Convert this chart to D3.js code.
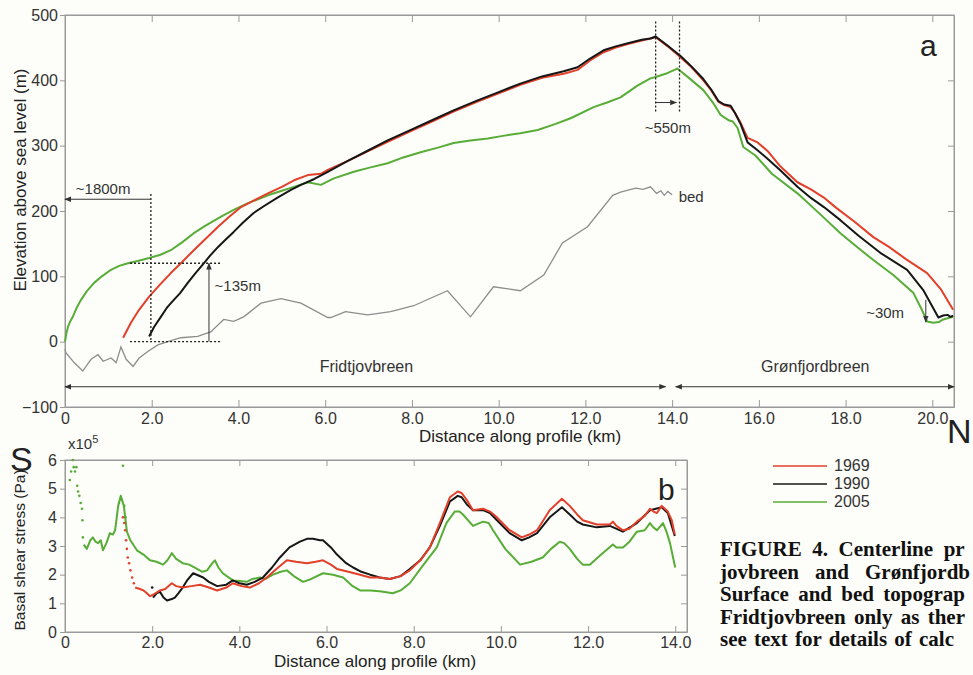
<!DOCTYPE html>
<html>
<head>
<meta charset="utf-8">
<script src="https://cdn.jsdelivr.net/npm/d3@7"></script>
<style>
  body { margin: 0; background: #fdfdf9; }
  svg { display: block; font-family: "Liberation Sans", Arial, sans-serif; }
  .axis path, .axis line { stroke: #9a9a9a; }
  .axis text { fill: #333; font-size: 16px; font-family: "Liberation Sans", Arial, sans-serif; }
  .caption { font-family: "Liberation Serif", "Times New Roman", serif; font-weight: bold; font-size: 21px; fill: #111; }
</style>
</head>
<body>
<div id="chart"></div>
<script>
// ---- panel a : surface + bed profiles (km, m a.s.l.) ----
const surf1969 = [[1.34,6],[1.52,29],[1.7,48],[1.94,69],[2.2,88],[2.44,105],[2.7,122],[2.97,140],[3.25,158],[3.53,176],[3.8,192],[4.06,206],[4.35,216],[4.68,227],[5.0,237],[5.28,247],[5.6,255],[5.9,257],[6.06,263],[6.5,276],[7.0,292],[7.44,306],[8.0,323],[8.5,338],[8.96,352],[9.5,367],[10.0,380],[10.5,393],[11.0,404],[11.5,410],[11.82,416],[12.1,430],[12.42,443],[12.7,450],[13.0,456],[13.3,461],[13.5,464],[13.62,466],[13.9,452],[14.2,435],[14.45,420],[14.72,400],[14.9,385],[15.07,367],[15.2,362],[15.35,359],[15.45,350],[15.58,335],[15.74,312],[15.97,305],[16.2,292],[16.5,268],[16.89,244],[17.2,233],[17.49,221],[17.8,204],[18.2,184],[18.64,160],[19.0,145],[19.4,126],[19.88,105],[20.2,80],[20.48,49]];
const surf1990 = [[1.94,8],[2.05,22],[2.21,38],[2.35,52],[2.51,64],[2.65,74],[2.83,90],[3.0,104],[3.2,120],[3.35,132],[3.53,145],[3.7,156],[3.89,168],[4.1,182],[4.35,197],[4.6,208],[4.91,221],[5.2,232],[5.44,240],[5.75,249],[6.06,260],[6.5,276],[7.0,293],[7.44,308],[8.0,325],[8.5,340],[8.96,354],[9.5,369],[10.0,382],[10.5,395],[11.0,406],[11.5,414],[11.82,420],[12.1,433],[12.42,446],[12.7,452],[13.0,457],[13.3,462],[13.5,464],[13.62,467],[13.9,453],[14.2,437],[14.45,421],[14.72,402],[14.9,386],[15.07,368],[15.2,363],[15.35,361],[15.45,350],[15.58,333],[15.74,305],[15.97,293],[16.2,280],[16.5,262],[16.89,237],[17.2,220],[17.5,206],[17.88,186],[18.3,162],[18.8,136],[19.42,110],[19.8,78],[20.14,37],[20.25,40],[20.35,41],[20.42,38],[20.48,40]];
const surf2005 = [[0.0,0],[0.03,12],[0.07,23],[0.12,31],[0.18,38],[0.27,52],[0.37,64],[0.5,77],[0.67,90],[0.85,100],[1.06,110],[1.25,116],[1.45,120],[1.7,124],[1.94,128],[2.2,133],[2.44,140],[2.7,152],[2.97,166],[3.25,178],[3.59,191],[3.9,202],[4.22,212],[4.45,218],[4.68,224],[5.0,231],[5.28,237],[5.6,244],[5.9,240],[6.2,250],[6.66,260],[7.0,266],[7.44,273],[7.8,282],[8.2,290],[8.6,297],[8.96,304],[9.35,308],[9.75,311],[10.1,315],[10.5,319],[10.9,324],[11.3,333],[11.66,342],[12.19,359],[12.5,366],[12.81,374],[13.2,392],[13.5,403],[13.62,405],[13.85,410],[14.12,418],[14.4,403],[14.72,385],[14.95,365],[15.12,347],[15.3,339],[15.4,337],[15.51,327],[15.64,298],[15.92,285],[16.3,257],[16.89,227],[17.4,196],[17.88,166],[18.3,143],[18.64,125],[19.1,102],[19.56,75],[19.75,50],[19.88,31],[20.02,29],[20.15,30],[20.25,34],[20.48,38]];
const bed = [[0.0,-12],[0.02,-17],[0.21,-32],[0.41,-45],[0.6,-27],[0.76,-20],[0.88,-30],[1.06,-25],[1.18,-32],[1.29,-8],[1.41,-27],[1.57,-38],[1.71,-25],[1.91,-15],[2.14,-5],[2.37,0],[2.67,6],[3.06,8],[3.36,15],[3.66,34],[3.89,31],[4.12,38],[4.52,59],[4.98,66],[5.44,59],[6.06,37],[6.13,37],[6.47,46],[6.98,41],[7.51,46],[8.04,55],[8.82,78],[9.35,38],[9.88,84],[10.5,78],[11.04,102],[11.47,151],[12.05,176],[12.63,224],[12.81,229],[13.16,235],[13.33,233],[13.5,237],[13.64,227],[13.74,231],[13.82,224],[13.9,230],[14.0,225]];

// ---- panel b : basal shear stress (km, x10^5 Pa) ----
const stress1969Dots = [[1.33,4.0],[1.36,3.8],[1.38,3.55],[1.4,3.2],[1.42,2.9],[1.44,2.6],[1.47,2.4],[1.5,2.15],[1.54,1.9],[1.58,1.7]];
const stress1969 = [[1.61,1.55],[1.72,1.5],[1.8,1.45],[1.88,1.35],[1.95,1.25],[2.02,1.3],[2.18,1.45],[2.3,1.5],[2.45,1.7],[2.55,1.6],[2.7,1.55],[2.9,1.6],[3.1,1.65],[3.3,1.55],[3.49,1.45],[3.7,1.55],[3.85,1.7],[4.05,1.6],[4.24,1.55],[4.45,1.7],[4.63,1.9],[4.85,2.2],[5.09,2.5],[5.3,2.45],[5.55,2.4],[5.75,2.45],[5.92,2.5],[6.1,2.35],[6.24,2.2],[6.5,2.1],[6.77,2.0],[7.0,1.9],[7.22,1.9],[7.45,1.85],[7.7,1.95],[7.91,2.15],[8.15,2.5],[8.37,2.95],[8.6,3.8],[8.83,4.7],[9.01,4.9],[9.1,4.85],[9.22,4.6],[9.36,4.25],[9.59,4.3],[9.75,4.2],[9.91,4.0],[10.2,3.55],[10.48,3.3],[10.65,3.4],[10.83,3.55],[11.12,4.25],[11.4,4.65],[11.58,4.4],[11.75,4.1],[11.88,3.9],[12.2,3.75],[12.5,3.75],[12.57,3.85],[12.65,3.7],[12.8,3.55],[12.95,3.6],[13.12,3.85],[13.3,4.05],[13.42,4.3],[13.5,4.2],[13.58,4.15],[13.69,4.4],[13.76,4.3],[13.83,4.2],[13.92,3.9],[13.99,3.4]];
const stress1990Dots = [[2.0,1.55]];
const stress1990 = [[2.02,1.2],[2.1,1.35],[2.18,1.4],[2.26,1.2],[2.34,1.1],[2.45,1.15],[2.52,1.2],[2.6,1.35],[2.7,1.55],[2.8,1.8],[2.94,2.05],[3.05,1.98],[3.17,1.9],[3.3,1.75],[3.49,1.6],[3.7,1.65],[3.85,1.8],[4.0,1.7],[4.17,1.65],[4.35,1.75],[4.54,1.9],[4.75,2.25],[4.93,2.6],[5.15,2.95],[5.39,3.15],[5.55,3.25],[5.69,3.25],[5.85,3.2],[5.92,3.2],[6.1,2.95],[6.24,2.7],[6.45,2.4],[6.61,2.25],[6.8,2.1],[7.0,2.0],[7.22,1.9],[7.45,1.85],[7.7,1.95],[7.91,2.2],[8.15,2.5],[8.37,2.95],[8.6,3.7],[8.83,4.55],[9.01,4.75],[9.1,4.7],[9.22,4.45],[9.36,4.25],[9.59,4.25],[9.75,4.15],[9.91,3.9],[10.2,3.45],[10.48,3.2],[10.65,3.3],[10.83,3.45],[11.12,4.0],[11.4,4.35],[11.58,4.1],[11.75,3.85],[11.88,3.75],[12.2,3.65],[12.5,3.7],[12.8,3.5],[13.12,3.8],[13.42,4.25],[13.69,4.35],[13.83,4.15],[13.99,3.35]];
const stress2005Dots = [[0.11,5.3],[0.14,5.6],[0.18,6.0],[0.2,5.75],[0.23,5.6],[0.26,5.75],[0.28,5.1],[0.3,4.9],[0.33,4.75],[0.36,4.5],[0.39,4.3],[0.4,3.9],[0.41,3.3],[1.24,4.5],[1.3,4.6],[1.33,5.8],[1.36,4.4],[1.39,4.0]];
const stress2005 = [[0.43,3.05],[0.5,2.9],[0.58,3.2],[0.64,3.3],[0.7,3.15],[0.76,3.1],[0.82,3.2],[0.87,2.85],[0.95,3.1],[1.03,3.45],[1.1,3.4],[1.15,3.55],[1.22,4.4],[1.28,4.75],[1.32,4.55],[1.35,4.4],[1.42,3.5],[1.5,3.2],[1.65,2.85],[1.8,2.7],[1.95,2.5],[2.1,2.45],[2.25,2.35],[2.35,2.5],[2.45,2.75],[2.55,2.55],[2.7,2.4],[2.85,2.35],[3.03,2.2],[3.15,2.1],[3.26,2.15],[3.38,2.4],[3.44,2.5],[3.52,2.25],[3.62,2.05],[3.85,1.8],[4.0,1.78],[4.17,1.75],[4.3,1.85],[4.47,1.9],[4.6,1.85],[4.77,2.0],[4.95,2.1],[5.09,2.15],[5.25,1.95],[5.46,1.75],[5.65,1.85],[5.92,2.05],[6.15,2.0],[6.38,1.9],[6.6,1.6],[6.77,1.45],[7.0,1.45],[7.22,1.42],[7.52,1.35],[7.7,1.45],[7.91,1.7],[8.2,2.3],[8.53,2.95],[8.75,3.8],[8.94,4.2],[9.05,4.2],[9.13,4.1],[9.36,3.7],[9.59,3.85],[9.72,3.8],[9.82,3.55],[10.1,2.9],[10.44,2.35],[10.7,2.45],[10.96,2.6],[11.15,2.9],[11.35,3.15],[11.45,3.1],[11.58,2.9],[11.75,2.55],[11.88,2.35],[12.04,2.35],[12.3,2.7],[12.57,3.05],[12.65,2.95],[12.8,2.95],[12.95,3.15],[13.12,3.5],[13.3,3.55],[13.42,3.8],[13.5,3.65],[13.58,3.55],[13.72,3.8],[13.8,3.5],[13.88,3.1],[13.95,2.6],[14.0,2.25]];

const yearLabels = ["1969", "1990", "2005"];
const colors = {"1969": "#e2402a", "1990": "#161616", "2005": "#57ad37", bed: "#8d8d8d"};
const ticksA_x = [0, 2, 4, 6, 8, 10, 12, 14, 16, 18, 20];
const ticksA_y = [-100, 0, 100, 200, 300, 400, 500];
const ticksB_x = [0, 2, 4, 6, 8, 10, 12, 14];
const ticksB_y = [0, 1, 2, 3, 4, 5, 6];
// caption as it shows in the cropped page (cut at the right edge)
const captionLines = [
	"FIGURE 4.  Centerline pr",
	"jovbreen and Grønfjordb",
	"Surface and bed topograp",
	"Fridtjovbreen only as ther",
	"see text for details of calc"
];
const captionWidths = [250, 250, 245, 245, 234];

const W = 973, H = 675;
const svg = d3.select("#chart").append("svg").attr("width", W).attr("height", H);

// arrow markers
const defs = svg.append("defs");
defs.append("marker").attr("id", "arr")
	.attr("viewBox", "0 0 10 10").attr("refX", 9).attr("refY", 5)
	.attr("markerWidth", 7).attr("markerHeight", 7).attr("markerUnits", "userSpaceOnUse")
	.attr("orient", "auto-start-reverse")
	.append("path").attr("d", "M0,1 L10,5 L0,9 Z").attr("fill", "#333");

let kmFmt = d => d === 0 ? "0" : d.toFixed(1);

// ================= panel a =================
let xA = d3.scaleLinear().domain([0, 20.5]).range([65, 954]);
let yA = d3.scaleLinear().domain([-100, 500]).range([407, 15]);

svg.append("rect").attr("x", 65).attr("y", 15).attr("width", 954 - 65).attr("height", 407 - 15)
	.attr("fill", "none").attr("stroke", "#9a9a9a");

svg.append("g").attr("class", "axis").attr("transform", "translate(65,0)")
	.call(d3.axisLeft(yA).tickValues(ticksA_y).tickSize(5).tickPadding(2));
svg.append("g").attr("class", "axis").attr("transform", "translate(954,0)")
	.call(d3.axisRight(yA).tickValues(ticksA_y).tickSizeInner(-6).tickSizeOuter(0).tickFormat(""));
svg.append("g").attr("class", "axis").attr("transform", "translate(0,407)")
	.call(d3.axisBottom(xA).tickValues(ticksA_x).tickSizeInner(-7).tickSizeOuter(0).tickPadding(6).tickFormat(kmFmt));
svg.append("g").attr("class", "axis").attr("transform", "translate(0,15)")
	.call(d3.axisTop(xA).tickValues(ticksA_x).tickSizeInner(-7).tickSizeOuter(0).tickFormat(""));
svg.selectAll(".axis .domain").attr("stroke", "#9a9a9a");

let lineA = d3.line().x(d => xA(d[0])).y(d => yA(d[1]));

svg.append("path").datum(bed).attr("d", lineA).attr("fill", "none")
	.attr("stroke", colors.bed).attr("stroke-width", 1.3);
[["2005", surf2005], ["1969", surf1969], ["1990", surf1990]].forEach(([k, s]) => {
	svg.append("path").datum(s).attr("d", lineA).attr("fill", "none")
		.attr("stroke", colors[k]).attr("stroke-width", 2).attr("stroke-linejoin", "round");
});

// annotations panel a
let ann = svg.append("g").attr("stroke", "#333").attr("stroke-width", 1).attr("fill", "none");
let dotted = (x1, y1, x2, y2) => ann.append("line")
	.attr("x1", xA(x1)).attr("y1", yA(y1)).attr("x2", xA(x2)).attr("y2", yA(y2))
	.attr("stroke", "#222").attr("stroke-width", 1.3).attr("stroke-dasharray", "2,2");
let arrow = (x1, y1, x2, y2, both) => {
	let l = ann.append("line")
		.attr("x1", xA(x1)).attr("y1", yA(y1)).attr("x2", xA(x2)).attr("y2", yA(y2))
		.attr("marker-end", "url(#arr)");
	if (both) l.attr("marker-start", "url(#arr)");
};

dotted(1.98, 226, 1.98, 0);
arrow(1.98, 218, 0, 218);
dotted(1.5, 120, 3.6, 120);
dotted(1.5, 0, 3.6, 0);
arrow(3.32, 0, 3.32, 120);
dotted(13.62, 490, 13.62, 352);
dotted(14.17, 490, 14.17, 352);
arrow(13.62, 366, 14.1, 366);
arrow(19.85, 64, 19.85, 30);
arrow(13.85, -69, 0, -69, true);
arrow(14.08, -69, 20.5, -69, true);

let txt = (x, y, s, opts = {}) => svg.append("text").attr("x", x).attr("y", y)
	.attr("font-size", opts.size || 15).attr("fill", opts.fill || "#333")
	.attr("text-anchor", opts.anchor || "start").text(s);

txt(xA(0.25), yA(226), "~1800m");
txt(xA(3.45), yA(78), "~135m");
txt(xA(13.9), yA(320), "~550m", {anchor: "middle"});
txt(xA(14.15), yA(214), "bed");
txt(xA(19.35), yA(36), "~30m", {anchor: "end"});
txt(xA(6.95), yA(-46), "Fridtjovbreen", {anchor: "middle", size: 16});
txt(xA(17.3), yA(-46), "Grønfjordbreen", {anchor: "middle", size: 16});
txt(920, 56, "a", {size: 30, fill: "#222"});

txt(520, 442, "Distance along profile (km)", {anchor: "middle", size: 17, fill: "#222"});
svg.append("text").attr("transform", "translate(26,180) rotate(-90)")
	.attr("text-anchor", "middle").attr("font-size", 17).attr("fill", "#222")
	.text("Elevation above sea level (m)");
txt(10, 471, "S", {size: 34, fill: "#222"});
txt(947, 443, "N", {size: 34, fill: "#222"});

// ================= panel b =================
let xB = d3.scaleLinear().domain([0, 14.27]).range([65, 687]);
let yB = d3.scaleLinear().domain([0, 6]).range([632, 460]);

svg.append("rect").attr("x", 65).attr("y", 460).attr("width", 687 - 65).attr("height", 632 - 460)
	.attr("fill", "none").attr("stroke", "#9a9a9a");

svg.append("g").attr("class", "axis").attr("transform", "translate(65,0)")
	.call(d3.axisLeft(yB).tickValues(ticksB_y).tickSize(5).tickPadding(3).tickFormat(d3.format("d")));
svg.append("g").attr("class", "axis").attr("transform", "translate(687,0)")
	.call(d3.axisRight(yB).tickValues(ticksB_y).tickSizeInner(-6).tickSizeOuter(0).tickFormat(""));
svg.append("g").attr("class", "axis").attr("transform", "translate(0,632)")
	.call(d3.axisBottom(xB).tickValues(ticksB_x).tickSizeInner(-6).tickSizeOuter(0).tickPadding(5).tickFormat(kmFmt));
svg.append("g").attr("class", "axis").attr("transform", "translate(0,460)")
	.call(d3.axisTop(xB).tickValues(ticksB_x).tickSizeInner(-6).tickSizeOuter(0).tickFormat(""));
svg.selectAll(".axis .domain").attr("stroke", "#9a9a9a");

let lineB = d3.line().x(d => xB(d[0])).y(d => yB(d[1]));
[["2005", stress2005, stress2005Dots], ["1990", stress1990, stress1990Dots], ["1969", stress1969, stress1969Dots]]
	.forEach(([k, s, dots]) => {
		svg.append("path").datum(s).attr("d", lineB).attr("fill", "none")
			.attr("stroke", colors[k]).attr("stroke-width", 2).attr("stroke-linejoin", "round");
		svg.append("g").selectAll("circle").data(dots).join("circle")
			.attr("cx", d => xB(d[0])).attr("cy", d => yB(d[1])).attr("r", 1.3)
			.attr("fill", colors[k]);
	});

let x10 = svg.append("text").attr("x", 68).attr("y", 449).attr("font-size", 15).attr("fill", "#333");
x10.append("tspan").text("x10");
x10.append("tspan").attr("font-size", 11).attr("dy", -6).text("5");
txt(658, 500, "b", {size: 30, fill: "#222"});
txt(375, 667, "Distance along profile (km)", {anchor: "middle", size: 17, fill: "#222"});
svg.append("text").attr("transform", "translate(25,550) rotate(-90)")
	.attr("text-anchor", "middle").attr("font-size", 15.5).attr("fill", "#222")
	.text("Basal shear stress (Pa)");

// legend
let leg = svg.append("g");
yearLabels.forEach((y, i) => {
	leg.append("line").attr("x1", 773).attr("x2", 827)
		.attr("y1", 466 + i * 18).attr("y2", 466 + i * 18)
		.attr("stroke", colors[y]).attr("stroke-width", 1.5);
	leg.append("text").attr("x", 834).attr("y", 471 + i * 18)
		.attr("font-size", 16).attr("fill", "#333").text(y);
});

// caption lines, justified by widening the word gaps only
captionLines.forEach((s, i) => {
	let t = svg.append("text").attr("class", "caption").attr("x", 720).attr("y", 556 + i * 22.5).text(s);
	let natural = t.node().getComputedTextLength();
	let gaps = s.split(" ").length - 1;
	let extra = Math.max(0, (captionWidths[i] - natural) / gaps);
	t.attr("word-spacing", extra);
});
</script>
</body>
</html>
